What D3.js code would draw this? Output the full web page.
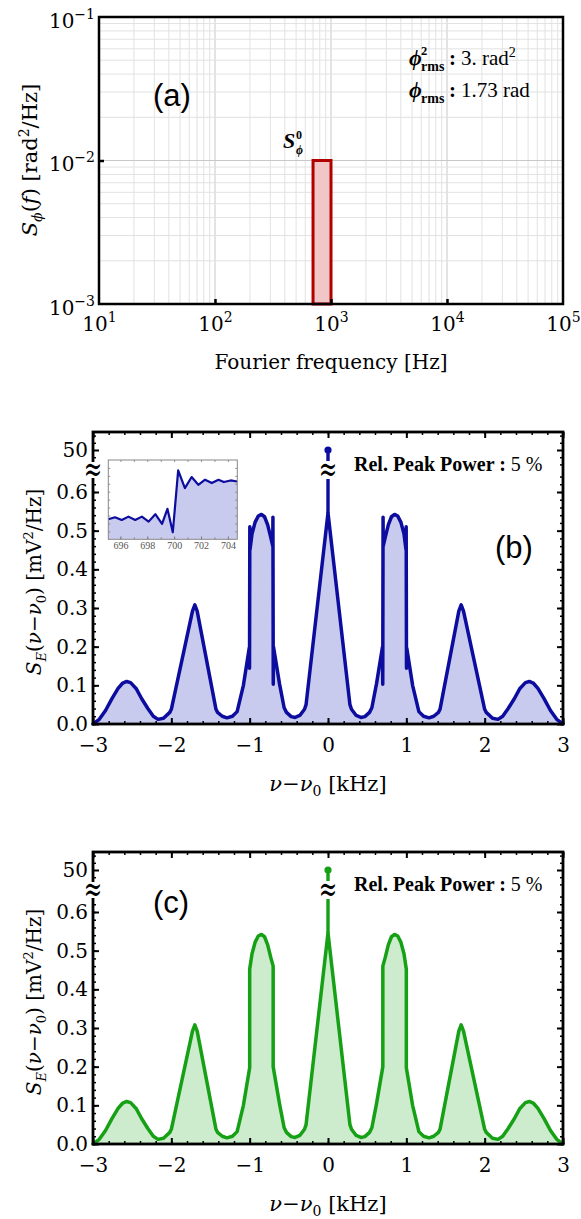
<!DOCTYPE html>
<html><head><meta charset="utf-8">
<script src="https://cdn.jsdelivr.net/npm/d3@7"></script>
<style>body{margin:0;background:#fff} text{white-space:pre}</style>
</head><body>
<svg id="chart" width="581" height="1219"></svg>
<script>
// ---------------- data: panel (a) ----------------
const freqDomain = [10, 1e5];
const psdDomain = [1e-3, 1e-1];
const freqTicks = [10, 100, 1000, 10000, 100000];
const freqTickExp = ["1", "2", "3", "4", "5"];
const psdTicks = [1e-3, 1e-2, 1e-1];
const psdTickExp = ["\u22123", "\u22122", "\u22121"];
const bandEdges = [700, 1000];
const bandLevel = [1e-2];
const phiRmsSq = ["3."];
const phiRms = ["1.73"];

// ---------------- data: panels (b), (c) ----------------
const detTicks = [-3, -2, -1, 0, 1, 2, 3];
const lowTicks = [0, 0.1, 0.2, 0.3, 0.4, 0.5, 0.6];
const upperTicks = [50];
const peakDet = [0];
const peakBase = [0.546];
const peakPower = [50];
const relPeakPower = ["5"];

const specX_c = [-3.00,-2.92,-2.84,-2.76,-2.68,-2.62,-2.57,-2.52,-2.45,-2.38,-2.30,-2.23,-2.17,-2.10,-2.02,-2.00,
 -1.73,-1.70,-1.67,-1.43,-1.41,-1.35,-1.29,-1.22,-1.16,-1.08,-1.00,-1.00,-0.97,-0.93,-0.89,-0.85,-0.81,-0.77,-0.73,-0.70,-0.70,
 -0.62,-0.56,-0.53,-0.47,-0.42,-0.36,-0.30,-0.28,0.00,
 0.28,0.30,0.36,0.42,0.47,0.53,0.56,0.62,0.70,0.70,0.73,0.77,0.81,0.85,0.89,0.93,0.97,1.00,1.00,1.08,1.16,1.22,1.29,1.35,1.41,1.43,
 1.67,1.70,1.73,2.00,2.02,2.10,2.17,2.23,2.30,2.38,2.45,2.52,2.57,2.62,2.68,2.76,2.84,2.92,3.00];
const specY_c = [0.000,0.012,0.035,0.065,0.092,0.106,0.110,0.107,0.092,0.066,0.040,0.020,0.012,0.015,0.030,0.038,
 0.292,0.308,0.292,0.038,0.030,0.020,0.016,0.020,0.032,0.100,0.197,0.452,0.492,0.522,0.538,0.542,0.536,0.515,0.482,0.460,0.200,
 0.105,0.042,0.030,0.019,0.017,0.022,0.038,0.050,0.546,
 0.050,0.038,0.022,0.017,0.019,0.030,0.042,0.105,0.200,0.460,0.482,0.515,0.536,0.542,0.538,0.522,0.492,0.452,0.197,0.100,0.032,0.020,0.016,0.020,0.030,0.038,
 0.292,0.308,0.292,0.038,0.030,0.015,0.012,0.020,0.040,0.066,0.092,0.107,0.110,0.106,0.092,0.065,0.035,0.012,0.000];

const specX_b = [-3.00,-2.92,-2.84,-2.76,-2.68,-2.62,-2.57,-2.52,-2.45,-2.38,-2.30,-2.23,-2.17,-2.10,-2.02,-2.00,
 -1.73,-1.70,-1.67,-1.43,-1.41,-1.35,-1.29,-1.22,-1.16,-1.08,-1.005,-1.002,-0.998,-0.995,-0.97,-0.93,-0.89,-0.85,-0.81,-0.77,-0.73,-0.705,-0.703,-0.699,-0.696,
 -0.62,-0.56,-0.53,-0.47,-0.42,-0.36,-0.30,-0.28,0.00,
 0.28,0.30,0.36,0.42,0.47,0.53,0.56,0.62,0.696,0.699,0.703,0.705,0.73,0.77,0.81,0.85,0.89,0.93,0.97,0.995,0.998,1.002,1.005,1.08,1.16,1.22,1.29,1.35,1.41,1.43,
 1.67,1.70,1.73,2.00,2.02,2.10,2.17,2.23,2.30,2.38,2.45,2.52,2.57,2.62,2.68,2.76,2.84,2.92,3.00];
const specY_b = [0.000,0.012,0.035,0.065,0.092,0.106,0.110,0.107,0.092,0.066,0.040,0.020,0.012,0.015,0.030,0.038,
 0.292,0.308,0.292,0.038,0.030,0.020,0.016,0.020,0.032,0.100,0.197,0.144,0.510,0.452,0.492,0.522,0.538,0.542,0.536,0.515,0.482,0.460,0.535,0.103,0.200,
 0.105,0.042,0.030,0.019,0.017,0.022,0.038,0.050,0.546,
 0.050,0.038,0.022,0.017,0.019,0.030,0.042,0.105,0.200,0.103,0.535,0.460,0.482,0.515,0.536,0.542,0.538,0.522,0.492,0.452,0.510,0.144,0.197,0.100,0.032,0.020,0.016,0.020,0.030,0.038,
 0.292,0.308,0.292,0.038,0.030,0.015,0.012,0.020,0.040,0.066,0.092,0.107,0.110,0.106,0.092,0.065,0.035,0.012,0.000];

const insetX = [695.1,695.6,696.1,696.6,697.1,697.6,698.1,698.6,699.1,699.5,699.9,700.3,700.8,701.3,701.8,702.3,702.8,703.3,703.7,704.2,704.7];
const insetY = [0.253,0.278,0.244,0.286,0.244,0.286,0.223,0.316,0.194,0.384,0.089,0.868,0.646,0.785,0.687,0.751,0.709,0.751,0.722,0.742,0.729];
const insetTicks = [696, 698, 700, 702, 704];

// ---------------- drawing ----------------
const SERIF = "'DejaVu Serif', serif";
const TSERIF = "'Liberation Serif', serif";
const SANS = "'Liberation Sans', Arial, sans-serif";
const svg = d3.select('#chart');
svg.append('rect').attr('width',581).attr('height',1219).attr('fill','#fff');

function styleAxis(a, w){
  a.select('.domain').remove();
  a.selectAll('line').attr('stroke','#000').attr('stroke-width', w);
  a.selectAll('text').attr('font-family', SERIF).attr('font-size', 20).attr('fill','#000');
  return a;
}

// ======== Panel (a) ========
(function(){
  const L=99, R=563, T=17, B=304;
  const xa = d3.scaleLog().domain(freqDomain).range([L,R]);
  const ya = d3.scaleLog().domain(psdDomain).range([B,T]);
  const g = svg.append('g');
  // grid
  g.append('g').selectAll('line').data(xa.ticks()).join('line')
    .attr('x1',d=>xa(d)).attr('x2',d=>xa(d)).attr('y1',T).attr('y2',B)
    .attr('stroke',d=>freqTicks.includes(d)?'#c8c8c8':'#e2e2e2').attr('stroke-width',1);
  g.append('g').selectAll('line').data(ya.ticks()).join('line')
    .attr('y1',d=>ya(d)).attr('y2',d=>ya(d)).attr('x1',L).attr('x2',R)
    .attr('stroke',d=>psdTicks.some(p=>Math.abs(p-d)<1e-12)?'#c8c8c8':'#e2e2e2').attr('stroke-width',1);
  // band
  g.append('rect').attr('x',xa(bandEdges[0])).attr('width',xa(bandEdges[1])-xa(bandEdges[0]))
    .attr('y',ya(bandLevel[0])).attr('height',ya(psdDomain[0])-ya(bandLevel[0]))
    .attr('fill','#f0c6c6').attr('stroke','#b00000').attr('stroke-width',3);
  // axes
  const bx = g.append('g').attr('transform',`translate(0,${B})`)
    .call(d3.axisBottom(xa).tickValues(freqTicks).tickSize(-5).tickPadding(13).tickFormat(()=>'10'));
  styleAxis(bx, 2.5);
  bx.selectAll('.tick text').each(function(d,i){
    d3.select(this).append('tspan').attr('dy',-9).attr('font-size',14).text(freqTickExp[i]);
  });
  bx.selectAll('.tick line').filter(d=>d===freqTicks[0]||d===freqTicks[4]).remove();
  const ly = g.append('g').attr('transform',`translate(${L},0)`)
    .call(d3.axisLeft(ya).tickValues(psdTicks).tickSize(-5).tickPadding(4).tickFormat(()=>'10'));
  styleAxis(ly, 2.5);
  ly.selectAll('.tick text').attr('dy','0.5em').each(function(d,i){
    d3.select(this).append('tspan').attr('dy',-9).attr('font-size',14).text(psdTickExp[i]);
  });
  ly.selectAll('.tick line').filter(d=>d!==psdTicks[1]).remove();
  // frame
  g.append('rect').attr('x',L).attr('y',T).attr('width',R-L).attr('height',B-T)
    .attr('fill','none').attr('stroke','#000').attr('stroke-width',2.5);
  // labels
  g.append('text').attr('x',172).attr('y',106).attr('text-anchor','middle')
    .attr('font-family',SANS).attr('font-size',31).text('(a)');
  g.append('text').attr('x',(L+R)/2).attr('y',369).attr('text-anchor','middle')
    .attr('font-family',SERIF).attr('font-size',20).text('Fourier frequency [Hz]');
  const yl = g.append('text').attr('transform','translate(37,160) rotate(-90)').attr('text-anchor','middle')
    .attr('font-family',SERIF).attr('font-size',21);
  yl.append('tspan').attr('font-style','italic').text('S');
  yl.append('tspan').attr('font-style','italic').attr('font-size',14).attr('dy',5).text('\u03d5');
  yl.append('tspan').attr('dy',-5).text('(');
  yl.append('tspan').attr('font-style','italic').text('f');
  yl.append('tspan').text(') [rad');
  yl.append('tspan').attr('font-size',14).attr('dy',-8).text('2');
  yl.append('tspan').attr('dy',8).text('/Hz]');
  // S_phi^0 annotation (one text element, stacked sub/sup)
  const s0 = g.append('text').attr('x',283).attr('y',148).attr('font-family',TSERIF).attr('font-weight','bold').attr('font-size',22);
  s0.append('tspan').attr('font-style','italic').text('S');
  s0.append('tspan').attr('x',296).attr('dy',-9).attr('font-size',12).text('0');
  s0.append('tspan').attr('x',296).attr('dy',15).attr('font-size',12).attr('font-style','italic').text('\u03d5');
  // rms annotations (one text element per line)
  const ann = [[65, phiRmsSq[0]+' rad', true],[97, phiRms[0]+' rad', false]];
  ann.forEach(([yb, val, sq])=>{
    const t = g.append('text').attr('x',409).attr('y',yb).attr('font-family',TSERIF).attr('font-size',21);
    t.append('tspan').attr('font-weight','bold').attr('font-style','italic').attr('font-size',22).text('\u03d5');
    if(sq){
      t.append('tspan').attr('x',421).attr('dy',-10).attr('font-weight','bold').attr('font-size',12.5).text('2');
      t.append('tspan').attr('x',421).attr('dy',15.5).attr('font-weight','bold').attr('font-size',14).text('rms');
    } else {
      t.append('tspan').attr('x',421).attr('dy',5.5).attr('font-weight','bold').attr('font-size',14).text('rms');
    }
    t.append('tspan').attr('x',449).attr('dy',-5.5).attr('font-weight','bold').text(':');
    t.append('tspan').attr('x',461).text(val);
    if(sq) t.append('tspan').attr('dy',-8).attr('font-size',14).text('2');
  });
})();

// ======== Panels (b), (c) ========
function spectrumPanel(o){
  const L=93, R=563, T=o.top, B=o.top+292;
  const xs = d3.scaleLinear().domain([-3,3]).range([L,R]);
  const yLow = d3.scaleLinear().domain([0,0.6]).range([B,B-232]);
  const yUp = d3.scaleLinear().domain([49.5,50.5]).range([T+36,T]);
  const breakY = T+38;
  const g = svg.append('g');
  const pts = o.xs.map((x,i)=>[x,o.ys[i]]);
  g.append('path').datum(pts).attr('fill',o.fill)
    .attr('d', d3.area().x(d=>xs(d[0])).y0(yLow(0)).y1(d=>yLow(d[1])));
  g.append('path').datum(pts).attr('fill','none').attr('stroke',o.col).attr('stroke-width',3.5)
    .attr('stroke-linejoin','round').attr('stroke-linecap','round')
    .attr('d', d3.line().x(d=>xs(d[0])).y(d=>yLow(d[1])));
  // central delta peak
  g.append('line').attr('x1',xs(peakDet[0])).attr('x2',xs(peakDet[0]))
    .attr('y1',yLow(peakBase[0])).attr('y2',yUp(peakPower[0])).attr('stroke',o.col).attr('stroke-width',3.4);
  g.append('circle').attr('cx',xs(peakDet[0])).attr('cy',yUp(peakPower[0])).attr('r',3.6).attr('fill',o.col);

  // ticks
  const minorX = d3.range(-3,3.001,0.2);
  const minorLow = d3.range(0,0.6401,0.02);
  const minorUp = [49.6,49.8,50.2,50.4];
  styleAxis(g.append('g').attr('transform',`translate(0,${B})`).call(d3.axisBottom(xs).tickValues(minorX).tickSize(-3).tickFormat('')),1.5);
  styleAxis(g.append('g').attr('transform',`translate(0,${T})`).call(d3.axisTop(xs).tickValues(minorX).tickSize(-3).tickFormat('')),1.5);
  styleAxis(g.append('g').attr('transform',`translate(0,${T})`).call(d3.axisTop(xs).tickValues(detTicks).tickSize(-6).tickFormat('')),2);
  styleAxis(g.append('g').attr('transform',`translate(0,${B})`).call(d3.axisBottom(xs).tickValues(detTicks).tickSize(-6).tickPadding(14).tickFormat(d3.format('d'))),2);
  [[d3.axisLeft,L],[d3.axisRight,R]].forEach(([ax,xp],k)=>{
    styleAxis(g.append('g').attr('transform',`translate(${xp},0)`).call(ax(yLow).tickValues(minorLow).tickSize(-3).tickFormat('')),1.5);
    styleAxis(g.append('g').attr('transform',`translate(${xp},0)`).call(ax(yUp).tickValues(minorUp).tickSize(-3).tickFormat('')),1.5);
    const a1 = styleAxis(g.append('g').attr('transform',`translate(${xp},0)`).call(ax(yLow).tickValues(lowTicks).tickSize(-6).tickPadding(5).tickFormat(d3.format('.1f'))),2);
    const a2 = styleAxis(g.append('g').attr('transform',`translate(${xp},0)`).call(ax(yUp).tickValues(upperTicks).tickSize(-6).tickPadding(5).tickFormat(d3.format('d'))),2);
    if(k===1){ a1.selectAll('text').remove(); a2.selectAll('text').remove(); }
  });
  // frame
  g.append('rect').attr('x',L).attr('y',T).attr('width',R-L).attr('height',B-T)
    .attr('fill','none').attr('stroke','#000').attr('stroke-width',2.8);
  // break symbols
  g.append('rect').attr('x',L-8).attr('y',breakY-8).attr('width',16).attr('height',16).attr('fill','#fff');
  g.append('text').attr('transform',`translate(${L},${breakY}) scale(1,1.6)`).attr('text-anchor','middle')
    .attr('dy','0.32em').attr('font-family',SERIF).attr('font-size',22).text('\u2248');
  g.append('rect').attr('x',xs(0)-9).attr('y',breakY-9).attr('width',18).attr('height',18).attr('fill','#fff');
  g.append('text').attr('transform',`translate(${xs(0)},${breakY}) scale(1,1.6)`).attr('text-anchor','middle')
    .attr('dy','0.32em').attr('font-family',SERIF).attr('font-size',22).text('\u2248');
  // inset
  if(o.inset){
    const iL=108.3, iR=237.3, iT=T+28, iB=T+107.3;
    const xi = d3.scaleLinear().domain([695.1,704.7]).range([iL,iR]);
    const yi = d3.scaleLinear().domain([0,1]).range([iB,iT]);
    const ig = g.append('g');
    ig.append('rect').attr('x',iL).attr('y',iT).attr('width',iR-iL).attr('height',iB-iT).attr('fill','#fff');
    const ip = insetX.map((x,i)=>[x,insetY[i]]);
    ig.append('path').datum(ip).attr('fill',o.fill).attr('d',d3.area().x(d=>xi(d[0])).y0(iB).y1(d=>yi(d[1])));
    ig.append('path').datum(ip).attr('fill','none').attr('stroke',o.col).attr('stroke-width',2.2)
      .attr('stroke-linejoin','round').attr('d',d3.line().x(d=>xi(d[0])).y(d=>yi(d[1])));
    const iMinor = d3.range(696,704.01,1);
    const sty = (a)=>{ a.select('.domain').remove(); a.selectAll('line').attr('stroke','#777').attr('stroke-width',0.8);
      a.selectAll('text').attr('font-family',TSERIF).attr('font-size',10).attr('fill','#555'); return a; };
    sty(ig.append('g').attr('transform',`translate(0,${iB})`).call(d3.axisBottom(xi).tickValues(iMinor).tickSize(-2).tickFormat('')));
    sty(ig.append('g').attr('transform',`translate(0,${iT})`).call(d3.axisTop(xi).tickValues(iMinor).tickSize(-2).tickFormat('')));
    sty(ig.append('g').attr('transform',`translate(0,${iB})`).call(d3.axisBottom(xi).tickValues(insetTicks).tickSize(-3).tickPadding(3)));
    const iy = d3.range(0.1,1,0.1);
    sty(ig.append('g').attr('transform',`translate(${iL},0)`).call(d3.axisLeft(yi).tickValues(iy).tickSize(-2).tickFormat('')));
    sty(ig.append('g').attr('transform',`translate(${iR},0)`).call(d3.axisRight(yi).tickValues(iy).tickSize(-2).tickFormat('')));
    ig.append('rect').attr('x',iL).attr('y',iT).attr('width',iR-iL).attr('height',iB-iT)
      .attr('fill','none').attr('stroke','#888').attr('stroke-width',1);
  }
  // annotation
  const rt = g.append('text').attr('x',354).attr('y',T+38.5).attr('font-family',TSERIF).attr('font-size',20);
  rt.append('tspan').attr('font-weight','bold').text('Rel. Peak Power :');
  rt.append('tspan').text(' '+relPeakPower[0]+' %');
  g.append('text').attr('x',o.labelX).attr('y',o.labelY).attr('text-anchor','middle')
    .attr('font-family',SANS).attr('font-size',31).text(o.label);
  // axis titles
  const xl = g.append('text').attr('x',(L+R)/2).attr('y',B+67).attr('text-anchor','middle')
    .attr('font-family',SERIF).attr('font-size',21);
  xl.append('tspan').attr('font-style','italic').text('\u03bd');
  xl.append('tspan').text('\u2212');
  xl.append('tspan').attr('font-style','italic').text('\u03bd');
  xl.append('tspan').attr('font-size',14).attr('dy',5).text('0');
  xl.append('tspan').attr('dy',-5).text(' [kHz]');
  const yl = g.append('text').attr('transform',`translate(41,${T+150}) rotate(-90)`).attr('text-anchor','middle')
    .attr('font-family',SERIF).attr('font-size',20);
  yl.append('tspan').attr('font-style','italic').text('S');
  yl.append('tspan').attr('font-style','italic').attr('font-size',13).attr('dy',5).text('E');
  yl.append('tspan').attr('dy',-5).text('(');
  yl.append('tspan').attr('font-style','italic').text('\u03bd');
  yl.append('tspan').text('\u2212');
  yl.append('tspan').attr('font-style','italic').text('\u03bd');
  yl.append('tspan').attr('font-size',13).attr('dy',5).text('0');
  yl.append('tspan').attr('dy',-5).text(') [mV');
  yl.append('tspan').attr('font-size',13).attr('dy',-8).text('2');
  yl.append('tspan').attr('dy',8).text('/Hz]');
}

spectrumPanel({top:432, xs:specX_b, ys:specY_b, col:'#0c0c9e', fill:'#c9cbee', inset:true, label:'(b)', labelX:514, labelY:558});
spectrumPanel({top:852, xs:specX_c, ys:specY_c, col:'#15a015', fill:'#cdebcd', inset:false, label:'(c)', labelX:171, labelY:913});
</script>
</body></html>
